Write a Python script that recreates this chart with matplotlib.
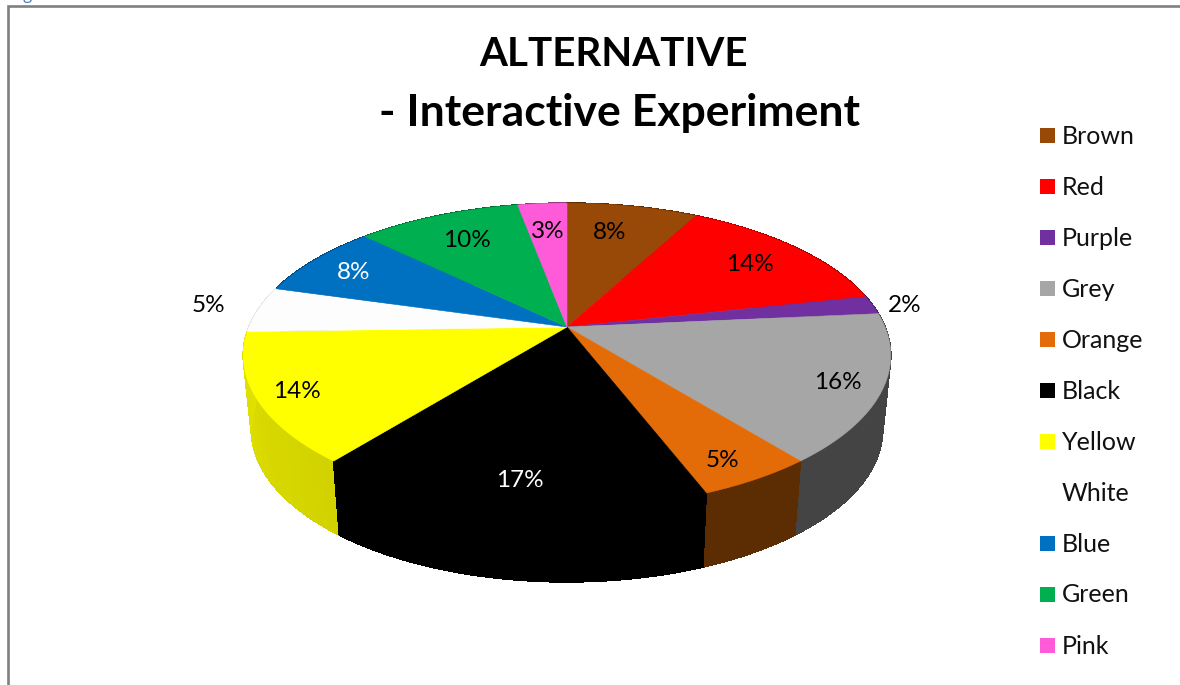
"""
Perspective pie chart for the ALTERNATIVE interactive experiment.
Slices are projected from a unit circle so the apex sits above the ellipse centre.
"""
import matplotlib
matplotlib.use("Agg")
import matplotlib.pyplot as plt
from matplotlib.patches import Polygon, Rectangle
from matplotlib.colors import to_rgb
import numpy as np

plt.rcParams["font.family"] = ["Lato", "DejaVu Sans"]

# ---------------------------------------------------------------------------
# Data
# ---------------------------------------------------------------------------
names = ["Brown", "Red", "Purple", "Grey", "Orange", "Black",
         "Yellow", "White", "Blue", "Green", "Pink"]
percents = [8, 14, 2, 16, 5, 17, 14, 5, 8, 10, 3]
top_colors = ["#984807", "#FF0000", "#7030A0", "#A6A6A6", "#E36C09", "#000000",
              "#FFFF00", "#FDFDFD", "#0070C0", "#00B050", "#FF5BD8"]
side_colors = ["#5C2C03", "#990000", "#431D60", "#444444", "#5C2C03", "#000000",
               "#D6D600", "#E0E0E0", "#004473", "#006A30", "#993782"]
legend_colors = top_colors[:7] + ["#FFFFFF"] + top_colors[8:]

# label centres, drawn in pixel space
label_x = [610, 750, 905, 838, 722, 520, 297, 208, 354, 467, 548]
label_y = [232, 264, 305, 382, 460, 480, 391, 305, 272, 240, 231]
label_colors = ["black", "black", "black", "black", "black", "white",
                "black", "black", "white", "black", "black"]

# ---------------------------------------------------------------------------
# Projection
# ---------------------------------------------------------------------------
APEX_X, APEX_Y = 567, 327
RX, RY, TILT = 318, 147, 0.187
DEPTH, BASE_SCALE = 74, 0.975


def project(theta):
    """Angle clockwise from 12 o'clock -> pixel offset from the apex."""
    u, v = np.sin(theta), np.cos(theta)
    w = 1 + TILT * v
    return RX * u / w, -RY * v / w


fig = plt.figure(figsize=(11.8, 6.85), dpi=100)
ax = fig.add_axes([0, 0, 1, 1])
ax.set_xlim(0, 1180)
ax.set_ylim(685, 0)
ax.axis("off")

# frame and the clipped caption above it
ax.plot([8, 8, 1180], [685, 6, 6], color="#808080", lw=1.9, solid_joinstyle="miter")
ax.text(27, -0.5, "g", color="#4F81BD", fontsize=13, ha="center", va="baseline")

edges = np.cumsum([0] + percents) / sum(percents) * 2 * np.pi


def wall_depth(i):
    return project((edges[i] + edges[i + 1]) / 2)[1]


# side wall first, back to front; top faces are painted over the hidden part
for i in sorted(range(len(percents)), key=wall_depth):
    th = np.linspace(edges[i], edges[i + 1], 80)
    dx, dy = project(th)
    base = np.asarray(to_rgb(side_colors[i]))
    for j in range(len(th) - 1):
        quad = [(APEX_X + dx[j], APEX_Y + dy[j]),
                (APEX_X + dx[j + 1], APEX_Y + dy[j + 1]),
                (APEX_X + dx[j + 1] * BASE_SCALE, APEX_Y + dy[j + 1] + DEPTH),
                (APEX_X + dx[j] * BASE_SCALE, APEX_Y + dy[j] + DEPTH)]
        # yellow wall brightens slightly towards the left edge
        shade = base
        if names[i] == "Yellow":
            shade = np.clip(base * (0.98 + 0.07 * j / (len(th) - 2)), 0, 1)
        ax.add_patch(Polygon(quad, closed=True, facecolor=shade, edgecolor=shade,
                             lw=0.6, antialiased=False))

for i in range(len(percents)):
    th = np.linspace(edges[i], edges[i + 1], 120)
    dx, dy = project(th)
    pts = [(APEX_X, APEX_Y)] + list(zip(APEX_X + dx, APEX_Y + dy))
    ax.add_patch(Polygon(pts, closed=True, facecolor=top_colors[i],
                         edgecolor=top_colors[i], lw=0.4))

for pct, lx, ly, col in zip(percents, label_x, label_y, label_colors):
    ax.text(lx, ly, f"{pct}%", color=col, fontsize=17.5, ha="center", va="center")

# ---------------------------------------------------------------------------
# Title and legend
# ---------------------------------------------------------------------------
ax.text(613.5, 54, "ALTERNATIVE", fontsize=29, fontweight="bold", ha="center", va="center")
ax.text(619.5, 113, "- Interactive Experiment", fontsize=32, fontweight="bold",
        ha="center", va="center")

for i, (name, col) in enumerate(zip(names, legend_colors)):
    y = 135 + 51 * i
    ax.add_patch(Rectangle((1040, y - 7.5), 15, 15, facecolor=col, edgecolor="none"))
    ax.text(1062, y + 1, name, fontsize=18, ha="left", va="center", color="#111111")

fig.savefig("out.png", dpi=100, facecolor="white")
